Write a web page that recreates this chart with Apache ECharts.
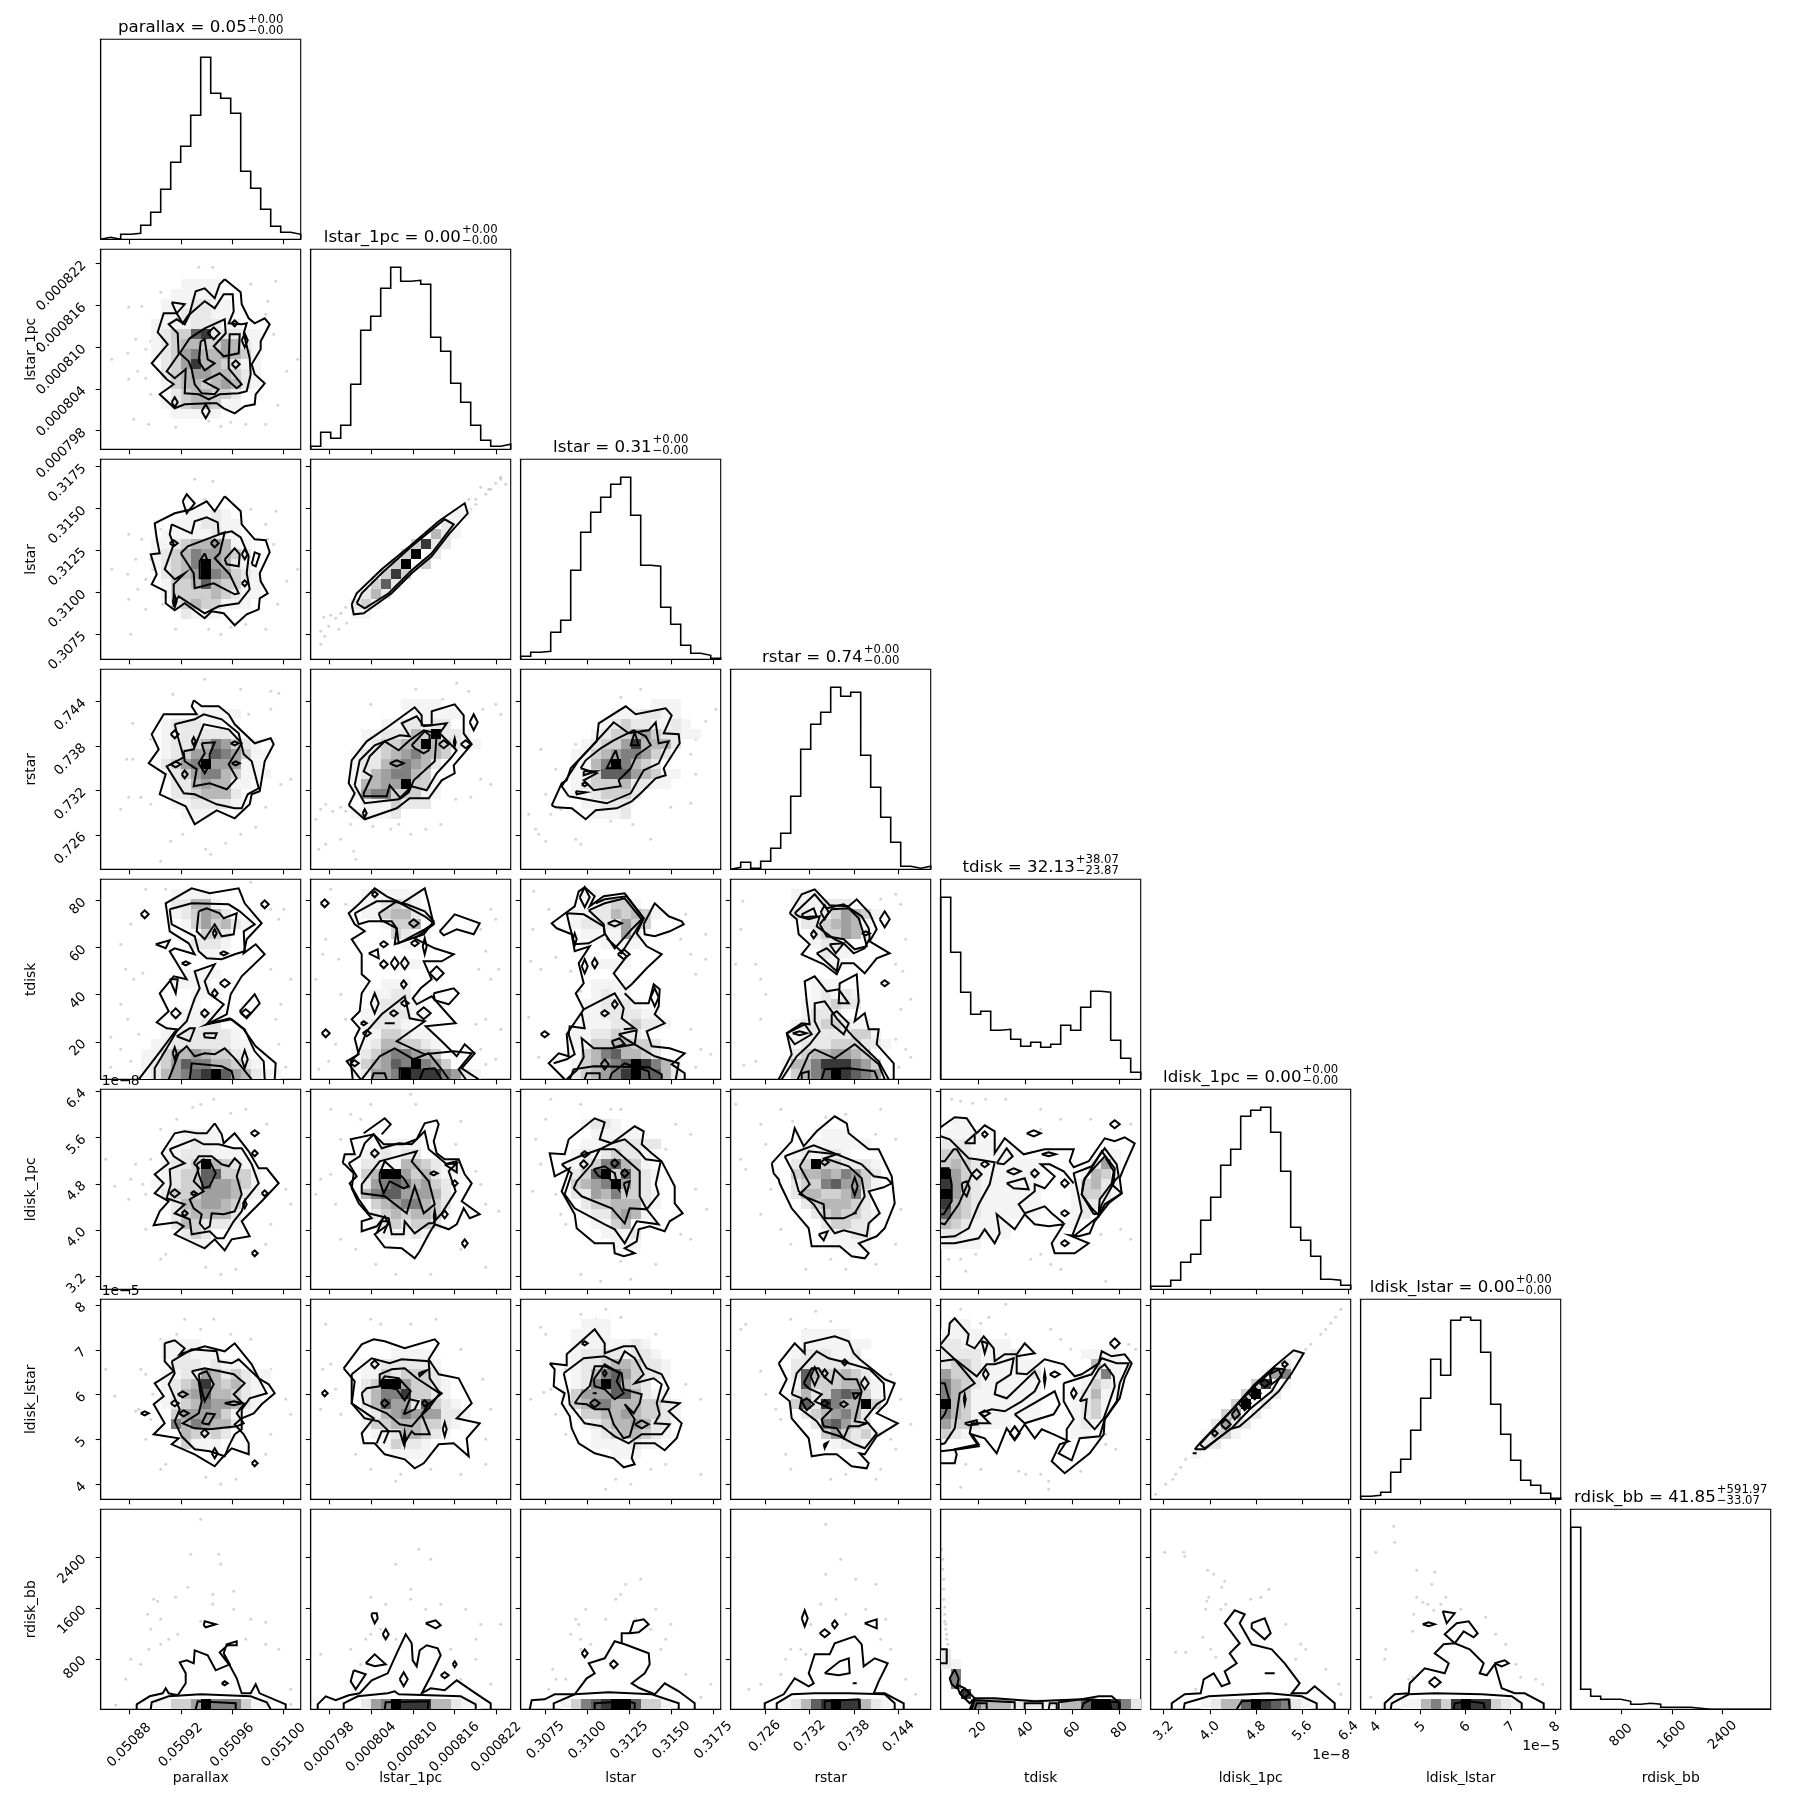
<!DOCTYPE html>
<html><head><meta charset="utf-8">
<style>html,body{margin:0;padding:0;background:#fff}#c{width:1809px;height:1809px}</style>
<script src="https://cdn.jsdelivr.net/npm/echarts@6/dist/echarts.min.js"></script>
</head><body><div id="c"></div>
<script>
const paramNames=["parallax","lstar_1pc","lstar","rstar","tdisk","ldisk_1pc","ldisk_lstar","rdisk_bb"];
const axisMin=[0.0508577,0.00079533,0.30601,0.72138,4.1,2.975e-8,3.668e-5,3];
const axisMax=[0.0510133,0.00082405,0.31794,0.74831,89,6.435e-8,8.127e-5,3159];
const tickValues=[[0.05088,0.05092,0.05096,0.051],[0.000798,0.000804,0.00081,0.000816,0.000822],[0.3075,0.31,0.3125,0.315,0.3175],[0.726,0.732,0.738,0.744],[20,40,60,80],[3.2e-8,4e-8,4.8e-8,5.6e-8,6.4e-8],[4e-5,5e-5,6e-5,7e-5,8e-5],[800,1600,2400]];
const tickLabels=[["0.05088","0.05092","0.05096","0.05100"],["0.000798","0.000804","0.000810","0.000816","0.000822"],["0.3075","0.3100","0.3125","0.3150","0.3175"],["0.726","0.732","0.738","0.744"],["20","40","60","80"],["3.2","4.0","4.8","5.6","6.4"],["4","5","6","7","8"],["800","1600","2400"]];
const titleMain=["parallax = 0.05","lstar_1pc = 0.00","lstar = 0.31","rstar = 0.74","tdisk = 32.13","ldisk_1pc = 0.00","ldisk_lstar = 0.00","rdisk_bb = 41.85"];
const titleUp=["+0.00","+0.00","+0.00","+0.00","+38.07","+0.00","+0.00","+591.97"];
const titleDown=["\u22120.00","\u22120.00","\u22120.00","\u22120.00","\u221223.87","\u22120.00","\u22120.00","\u221233.07"];
// relative histogram counts per bin
const hist_0=[2,0,5,6,14,27,50,77,93,124,182,146,141,126,68,51,30,13,7,5];
const hist_1=[3,17,11,24,65,119,133,161,182,168,169,165,112,98,66,47,24,9,3,5];
const hist_2=[3,7,8,27,39,89,127,147,162,175,182,144,94,93,52,35,14,6,4,1];
const hist_3=[2,7,1,8,21,36,73,120,145,157,182,173,177,114,82,52,27,3,1,3];
const hist_4=[182,127,87,65,68,49,50,40,33,37,32,35,54,49,72,88,87,39,21,7];
const hist_5=[3,3,9,27,35,69,92,124,140,173,179,182,157,118,62,49,33,10,9,4];
const hist_6=[3,4,7,27,40,69,101,140,124,179,182,179,147,95,65,39,19,14,6,1];
const hist_7=[182,20,13,10,10,8,5,6,5,2,2,2,1,0,0,0,0,0,0,0];
// Contours/points below: x,y pairs in 1/200ths of each parameter's plotted range.
// Islands: cx,cy,rx,ry. Cells: [row from top, first column, density digits 0-9].
const contours_1_0=[[124,170,140,157,141,145,148,131,154,126,164,131,169,125,160,108,160,100,151,85,154,75,164,66,155,55,154,45,144,43,134,36,123,41,116,46,108,46,84,45,74,41,59,55,73,65,66,70,51,86,67,105,57,117,63,136,76,136,82,126,89,136,95,158,104,161,114,151,119,165],[89,135,104,148,114,141,123,155,132,155,133,138,128,126,141,125,146,126,143,116,149,91,150,75,146,58,138,56,119,55,108,50,98,55,84,56,85,80,74,71,66,78,78,95,77,116,68,125,76,130,84,125],[79,96,89,111,104,121,124,130,125,116,113,103,123,93,138,96,139,115,129,115,128,90,128,81,141,65,136,61,119,76,103,68,118,60,114,55,101,56,94,65,91,80,88,88],[100,108,104,110,107,90,114,86,104,79,98,88],[71,147,84,145,76,136]];
const islands_1_0=[113,116,6,6,74,47,3,5,105,38,4,7,134,126,3,3,144,109,3,7,135,85,4,4];
const cells_1_0=[[3,8,"1111"],[4,7,"11111"],[5,6,"1112211"],[6,6,"1122211"],[7,5,"111122211"],[8,5,"12337822211"],[9,5,"12344335421"],[10,5,"12356445431"],[11,6,"2358443211"],[12,6,"2345544321"],[13,6,"1344345421"],[14,7,"2344332"],[15,6,"12344311"],[16,7,"11111"]];
const points_1_0=[53,128,60,157,98,182,104,165,112,182,33,30,28,142,37,78,41,143,50,108,45,100,52,102,27,96,11,90,62,65,28,70,45,71,50,55,48,25,75,22,108,28,120,23,130,27,145,25,165,25,177,44,186,78,197,90,173,115,167,148,150,165,175,168,165,135,35,110];
const contours_2_0=[[124,163,140,148,141,135,154,120,165,119,169,107,159,86,160,78,167,66,159,61,158,50,146,45,134,34,123,46,111,48,104,41,84,56,74,49,65,56,65,68,51,75,56,85,50,105,59,106,56,121,54,136,74,146,91,150,106,158,114,148],[71,135,82,130,91,126,94,138,106,142,117,137,118,125,131,128,140,122,148,103,146,86,149,70,138,56,118,53,104,46,78,63,73,55,73,75,84,86,74,80,64,90,73,115,69,125],[80,106,87,113,124,127,119,106,114,101,129,85,138,66,134,65,113,76,94,71,93,86,84,100],[124,100,134,111,139,105,138,93,126,95],[104,106,109,93,109,81,99,81,99,98],[82,158,86,165,94,156,86,146],[151,95,154,107,159,105,155,93]];
const islands_2_0=[73,116,4,3,114,116,4,4,144,105,3,5,144,76,3,3,74,58,2,6];
const cells_2_0=[[5,8,"11121"],[6,7,"1112211"],[7,6,"11111211"],[8,5,"1123445411"],[9,5,"1234655432"],[10,5,"1234695421"],[11,6,"2345965321"],[12,6,"1334743311"],[13,6,"1333343211"],[14,7,"23433111"],[15,8,"2111"]];
const points_2_0=[53,115,60,130,94,180,104,160,112,178,30,25,28,125,37,70,41,120,50,100,45,80,52,90,27,85,11,90,62,55,28,60,45,50,75,30,108,30,120,25,130,32,145,35,165,30,177,55,186,78,197,90,173,115,167,120,150,150,175,148,165,135,35,100];
const contours_3_0=[[93,169,101,163,118,163,128,155,134,145,154,126,170,131,173,125,164,108,159,78,151,75,149,65,134,51,116,59,94,45,85,63,59,75,65,95,48,106,58,120,51,135,63,155,86,155,96,155,91,163],[74,145,94,150,103,155,121,150,138,136,143,115,151,108,158,81,147,75,141,61,134,61,116,65,94,75,83,76,66,103,83,112,77,133],[83,118,93,120,103,145,128,140,141,126,128,105,136,91,126,80,109,86,93,83,96,100,84,108],[101,126,114,127,109,115,109,105,104,96,98,106,104,116]];
const islands_3_0=[74,135,4,4,93,128,2,4,134,126,4,2,75,105,5,3,84,95,3,4,135,106,4,2];
const cells_3_0=[[4,10,"1111"],[5,6,"122211"],[6,6,"11222221"],[7,6,"1223465321"],[8,6,"12355765311"],[9,6,"2356955511"],[10,6,"12356643111"],[11,7,"22454411"],[12,7,"2234442"],[13,7,"1122221"],[14,8,"111"]];
const points_3_0=[32,146,50,130,26,110,32,110,72,175,104,190,140,180,170,178,178,176,148,155,170,160,28,72,40,72,20,60,50,65,82,35,105,20,125,26,140,35,155,42,165,62,180,85,190,90,70,28,60,8,110,15];
const contours_4_0=[[38,0,58,26,76,50,66,51,56,57,68,68,59,86,73,103,86,100,69,128,74,131,94,125,88,136,69,148,65,176,91,191,109,186,138,191,144,176,161,156,146,140,143,126,155,135,164,125,141,103,130,85,126,65,106,55,129,61,143,50,155,33,175,16,174,0],[69,170,91,176,128,175,139,168,154,155,143,148,144,128,134,125,121,120,106,121,98,128,94,143,71,155],[98,168,106,171,119,166,123,161,136,166,133,145,121,143,114,155,104,140,96,148],[-1,54,0,54,11,66,31,76,48,86,58,94,81,99,91,94,108,114,115,104,98,108,86,123,75,106,55,131,60,144,50,154,28,163,18,164,0],[68,0,70,5,78,26,86,33,94,23,104,26,114,25,124,31,134,21,151,0],[89,0,91,16,121,13,131,8,133,0],[55,135,69,139,65,131],[69,100,77,100,75,86],[139,68,154,85,159,76,146,61],[103,46,116,46,114,41,104,42],[76,43,89,51,94,51,89,38]];
const islands_4_0=[44,165,4,4,164,175,4,4,85,116,4,2,124,96,5,4,114,86,3,4,75,66,5,5,104,66,4,4,145,66,5,4,74,26,2,6,123,126,4,2,114,146,2,4,144,20,3,9];
const cells_4_0=[[1,7,"1111"],[2,7,"22441"],[3,7,"123542"],[4,8,"1353421"],[5,10,"332"],[6,9,"2221"],[7,10,"11"],[9,8,"1111"],[10,7,"1111"],[11,9,"111"],[12,9,"1"],[13,8,"1111"],[14,8,"1122"],[15,6,"11222221"],[16,5,"1122222211"],[17,4,"11344543321"],[18,4,"123576644321"],[19,4,"12456789754211"]];
const points_4_0=[45,190,65,190,150,197,100,176,170,170,178,160,183,170,30,155,20,135,25,110,33,100,42,106,20,75,27,60,38,45,10,42,170,110,190,100,180,75,175,60,178,35,185,12,30,18,10,12,20,30];
const contours_2_1=[[41,55,46,66,71,90,99,113,128,138,154,156,157,146,138,125,121,103,101,86,81,66,53,46,43,45],[46,56,51,66,71,86,101,113,134,140,143,135,121,106,101,89,78,66,54,51]];
const islands_2_1=[];
const cells_2_1=[[5,14,"11"],[6,13,"21"],[7,12,"421"],[8,10,"3822"],[9,9,"39 2"],[10,8,"39 3"],[11,7,"383"],[12,6,"372"],[13,5,"242"],[14,4,"231"],[15,4,"11"]];
const points_2_1=[10,15,14,23,18,33,13,42,20,44,25,41,30,46,35,52,10,28,28,30,36,36,165,155,160,150,170,172,175,165,178,170,165,160,158,160,190,180,185,176,180,170,190,182,195,175];
const contours_3_1=[[38,64,44,76,38,86,41,109,56,128,78,143,104,162,111,154,111,144,121,144,121,158,144,165,153,154,153,136,161,125,143,104,144,96,131,89,118,71,99,71,86,61,54,50],[44,84,49,109,64,124,89,134,99,133,91,146,106,153,113,143,136,146,129,136,146,119,140,111,126,96,116,79,101,83,88,70,54,66],[53,76,61,93,53,98,59,113,74,128,88,119,99,129,113,139,126,136,124,108,103,89,98,77,90,71,79,84,76,73,53,73],[101,124,114,138,119,134,118,119,113,116,104,121]];
const islands_3_1=[86,106,7,3,54,56,2,4,133,125,5,4,144,127,1,4,155,125,5,4,163,147,4,8];
const cells_3_1=[[3,9,"1111"],[4,10,"11111"],[5,7,"1122122"],[6,5,"11222439221"],[7,5,"123344943211"],[8,4,"1223456443"],[9,4,"122456542"],[10,4,"12456643"],[11,4,"144559331"],[12,4,"156633311"],[13,5,"1113222"],[14,4,"11112"]];
const points_3_1=[5,50,10,60,15,65,22,58,30,62,35,58,40,45,8,20,15,25,30,30,43,18,45,10,62,43,80,40,88,45,100,35,115,40,130,45,145,70,160,72,170,90,180,85,172,160,158,178,146,186,132,170,60,165,105,180,185,165,190,155];
const contours_3_2=[[31,64,41,86,46,89,50,101,76,128,78,146,105,163,115,155,145,161,151,154,143,136,158,135,159,126,143,101,145,94,135,91,120,76,111,68,96,61,75,59,65,50,51,61,35,62],[48,73,41,83,58,109,83,136,93,147,108,136,128,139,135,147,138,126,148,128,138,106,123,99,110,76,86,66,59,71],[60,101,65,109,80,121,93,129,113,139,125,133,130,124,116,114,110,101,98,89,100,83,73,79,63,89,76,96],[114,137,118,124,110,124],[95,119,100,101,86,101],[63,98,75,98,63,94],[55,78,65,77,56,75]];
const islands_3_2=[64,85,3,2];
const cells_3_2=[[3,13,"111"],[4,9,"1112211"],[5,8,"123221121"],[6,7,"12334532211"],[7,6,"1233584442"],[8,5,"1134566532"],[9,5,"114696432"],[10,5,"11377754311"],[11,5,"1233342211"],[12,5,"1123332"],[13,6,"11222"],[14,7,"1112"]];
const points_3_2=[20,120,35,100,25,75,8,55,15,40,30,55,40,60,18,35,25,28,55,30,60,25,90,48,112,45,130,30,150,62,170,66,175,95,170,115,175,130,185,148,195,160,160,150,150,160,120,180,100,172,55,125];
const contours_4_1=[[50,0,36,18,48,25,44,41,49,51,41,60,49,68,51,86,59,98,51,105,51,125,41,140,54,148,44,155,38,166,48,175,64,191,76,183,91,176,114,191,118,176,123,155,104,141,124,131,143,125,131,118,113,118,121,100,110,91,102,81,106,75,121,83,145,56,115,53,131,38,146,23,154,35,164,26,151,11,168,0],[129,148,144,165,169,156,163,145,146,150,133,144],[42,0,40,18,47,25,56,48,71,65,94,83,99,61,114,58,86,38,114,25,143,28,161,26,148,10,155,0],[51,0,69,23,84,31,103,20,118,26,131,10,138,0],[61,0,63,6,74,6,76,0],[89,0,89,11,99,11,99,0],[109,0,113,10,124,11,131,0],[44,166,66,178,81,178,96,175,114,168,123,158,113,145,84,135,86,151,73,158,58,158,48,155],[68,166,86,178,114,163,123,156,114,150,88,136,86,151,81,158,71,158],[58,126,67,130,68,121],[123,86,143,91,148,86,138,75,124,79],[-1,74,56,84,56]];
const islands_4_1=[14,176,4,4,64,185,3,3,103,156,5,4,73,135,4,3,104,136,4,3,114,133,2,8,73,115,4,4,84,116,4,6,94,116,4,6,126,106,7,7,93,95,3,4,64,76,4,10,94,76,4,3,113,66,7,6,83,66,4,3,53,56,3,2,56,46,4,3,15,46,4,4,44,16,4,3];
const cells_4_1=[[1,5,"111111"],[2,5,"112321"],[3,5,"1134421"],[4,7,"1334"],[5,8,"3211"],[6,9,"1"],[8,9,"11"],[10,7,"111"],[11,6,"1122"],[12,6,"12211"],[13,5,"1122211"],[14,5,"12221"],[15,5,"1133211"],[16,5,"12443321"],[17,4,"123566543"],[18,4,"1345769653"],[19,4,"1255698886521"]];
const points_4_1=[20,190,35,175,15,140,28,120,12,125,5,100,180,170,185,160,170,150,175,128,188,110,180,100,168,110,175,60,165,55,190,50,170,30,185,20,175,15,35,60,30,85,25,35,18,18,8,10];
const contours_4_2=[[-1,44,0,28,16,38,26,48,23,46,45,63,70,55,86,63,96,58,116,69,133,54,128,51,145,36,151,31,156,54,173,58,188,64,192,74,183,69,173,83,183,104,186,123,161,116,146,126,133,141,125,126,111,111,95,105,90,93,106,106,123,86,141],[-1,104,86,114,76,128,76,133,95,139,90,138,73,134,65,144,56,126,48,131,33,149,31,164,26,151,15,164,6,164,0],[-1,63,70,94,86,103,71,101,61,114,51,103,50],[-1,33,16,46,20,54,25,48,45,49,53,64,51,61,66],[-1,46,0,56,9,63,22,61,41,73,31,91,31,114,35,134,23,158,16,155,0],[49,0,53,10,73,13,128,12,141,5,141,0],[64,0,66,6,79,6,79,0],[89,0,91,6,104,16,128,8,129,0],[46,166,63,165,83,153,84,145,68,136,54,135,49,153],[68,169,84,176,104,181,121,160,111,150,94,131,84,146,83,155],[-1,75,176,84,180,106,183,123,161,116,150,100,125],[123,155,134,176,148,163,161,158,163,155,149,148,134,143,124,145],[98,45,116,49,114,35,109,38],[91,38,99,41,104,35,94,32]];
const islands_4_2=[64,182,5,10,94,156,7,3,103,125,6,5,54,140,2,6,64,113,3,7,74,116,3,5,134,82,4,9,94,75,3,4,84,66,4,3,24,45,4,3,84,15,4,5];
const cells_4_2=[[1,6,"11"],[2,7,"12331"],[3,5,"112243431"],[4,5,"12222533"],[5,6,"111152"],[6,8,"1111"],[8,7,"1111"],[10,7,"1111"],[11,7,"1211"],[12,6,"112221"],[13,6,"11222211"],[14,6,"111223221"],[15,5,"11223221"],[16,5,"113344332"],[17,6,"34674432"],[18,5,"13456798641"],[19,5,"23456897742"]];
const points_4_2=[13,188,28,170,10,118,12,150,20,110,35,122,50,108,60,88,8,62,18,22,185,120,170,125,175,105,160,140,165,165,185,145,170,50,180,30,190,25,175,12];
const contours_4_3=[[59,166,71,185,84,190,99,174,118,173,126,180,139,166,146,150,139,138,159,126,146,121,134,106,123,116,111,116,106,105,93,115,71,125,79,135,68,145,66,160],[64,166,84,185,96,171,113,175,131,163,138,151,139,141,134,131,123,126,113,136,104,140,86,153,89,163,78,160,68,163],[89,155,101,170,118,171,128,161,133,145,136,133,124,130,113,140,96,143],[71,165,83,171,86,163,73,162],[99,135,113,136,105,126],[86,126,96,131,108,120,106,108],[48,0,61,25,56,46,71,56,79,55,76,78,74,98,84,103,96,88,108,90,118,76,108,76,109,96,126,105,128,78,124,58,134,66,138,50,148,50,146,35,163,16,163,0],[51,0,66,23,79,35,89,48,84,58,84,76,94,78,106,61,124,41,148,18,158,0],[67,0,78,25,84,30,104,21,124,35,148,15,154,0],[71,0,71,6,78,8,78,0],[91,0,94,10,118,11,144,8,147,0],[101,65,106,68,118,56,113,45,101,55],[56,46,74,55,81,45,64,35]];
const islands_4_3=[94,167,4,7,83,145,3,4,135,146,4,2,154,160,5,8,154,96,4,3,69,46,7,2];
const cells_4_3=[[1,6,"111"],[2,6,"111222"],[3,6,"221235431"],[4,7,"2234541"],[5,8,"233541"],[6,8,"1221"],[7,9,"211"],[8,9,"11"],[10,8,"111"],[11,8,"12121"],[12,7,"112322"],[13,7,"1222"],[14,6,"12233211"],[15,6,"112222331"],[16,6,"1222333221"],[17,6,"23445543"],[18,5,"1446888653"],[19,5,"1346798765"]];
const points_4_3=[12,178,10,150,5,115,25,115,30,100,35,85,30,60,25,18,13,14,165,185,150,180,170,175,175,140,165,115,172,108,180,80,170,70,165,40,175,30,180,22,168,12];
const contours_5_0=[[114,166,121,155,123,146,134,156,148,138,158,121,166,121,178,106,161,88,151,78,141,68,149,53,131,50,124,39,114,50,104,41,74,55,83,63,76,67,53,64,59,78,68,88,54,96,63,106,54,115,68,126,61,136,74,156,84,158,96,156,106,156],[69,140,94,150,103,145,118,145,133,141,141,141,151,125,158,106,145,90,141,78,133,68,123,51,116,51,109,58,91,55,89,70,74,76,84,85,66,91,70,105,69,120,84,126,73,133],[93,126,98,133,111,133,121,125,128,123,134,131,140,125,136,113,141,95,134,78,123,75,111,76,109,63,104,60,99,66,101,75,93,81,89,90,103,98,93,108,98,121],[96,125,103,130,109,128,115,116,109,103,103,101,98,115]];
const islands_5_0=[154,156,4,3,154,136,3,3,74,96,5,4,93,96,3,2,164,96,3,3,144,85,2,4,84,76,3,3,154,36,3,3];
const cells_5_0=[[4,8,"1111"],[5,7,"11211"],[6,6,"11222111"],[7,6,"122394321"],[8,6,"1233773331"],[9,5,"11233755431"],[10,6,"2333555421"],[11,7,"2445543"],[12,7,"2344442"],[13,7,"2432221"],[14,8,"232"],[15,9,"11"]];
const points_5_0=[50,130,30,110,28,90,35,125,42,105,45,95,60,160,76,170,92,182,100,185,113,190,130,176,145,180,166,165,14,103,5,130,185,100,190,85,170,65,165,45,60,30,65,35,105,22,120,15,135,20,45,60];
const contours_6_0=[[64,156,74,159,84,151,79,145,104,153,124,148,134,156,151,135,158,121,168,115,174,106,161,95,153,86,141,81,134,75,143,65,148,56,148,45,131,51,121,41,114,33,94,45,71,55,78,61,53,65,64,76,53,95,63,103,54,116,73,128,64,138],[71,138,91,150,116,148,118,138,131,136,138,140,158,121,166,106,149,101,141,90,141,70,134,65,128,53,124,43,109,48,94,50,81,63,74,78,79,90,68,115,74,126],[91,128,104,131,119,128,133,125,144,116,133,105,143,95,136,86,143,76,136,73,109,70,94,71,82,76,98,86,101,98,98,118],[98,125,106,128,113,115,104,98,100,113],[101,76,106,86,114,85,108,75]];
const islands_6_0=[74,96,4,3,133,96,9,2,82,105,5,3,83,86,5,3,44,86,4,2,104,66,4,4,114,46,3,5,154,36,3,3];
const cells_6_0=[[4,6,"1111"],[5,6,"112111"],[6,7,"2221211"],[7,6,"11225423211"],[8,6,"1234843421"],[9,6,"1245744321"],[10,6,"1234655421"],[11,7,"35555311"],[12,7,"6465442"],[13,8,"43232"],[14,8,"3111"]];
const points_6_0=[40,130,45,125,52,105,38,90,35,88,50,80,60,160,76,165,84,180,100,170,113,180,130,165,150,160,170,130,14,103,5,130,185,100,190,85,170,65,165,45,60,30,65,35,105,22,120,15,135,20,45,60];
const contours_7_0=[[36,0,36,5,49,13,62,16,65,21,68,16,77,14,85,26,85,36,79,47,86,49,93,46,94,59,107,54,115,39,129,45,123,56,126,65,136,68,136,64,127,64,119,57,129,44,136,31,141,16,150,16,155,25,159,16,185,5,185,0],[50,0,51,7,68,13,100,15,150,13,166,7,170,0],[95,0,97,8,135,6,135,0],[103,84,104,88,115,85,105,82]];
const islands_7_0=[124,26,3,2];
const cells_7_0=[[19,5,"113359666311"]];
const points_7_0=[15,4,25,30,47,95,30,50,40,45,48,60,53,110,57,108,68,70,77,75,87,122,100,88,112,105,75,112,60,90,60,65,90,155,120,145,133,118,133,100,145,70,150,90,165,87,165,65,178,60,190,5,190,20,100,190,118,155,112,115,50,80];
const contours_7_1=[[7,0,7,5,15,13,25,9,38,14,49,16,61,29,77,36,86,56,95,75,101,66,102,49,106,43,109,59,116,64,127,61,130,54,120,33,111,16,120,21,134,19,146,29,165,16,180,6,180,0],[33,0,33,6,47,13,77,16,84,18,88,15,150,13,165,5,165,0],[74,0,75,7,118,8,117,0],[61,96,66,96,67,91,64,86,61,93],[115,86,125,89,130,84,125,81],[55,46,64,55,75,45,64,43],[43,39,55,35,45,20,40,28]];
const islands_7_1=[75,75,3,5,93,30,4,7,134,34,4,3,144,45,2,3];
const cells_7_1=[[19,5,"256988844211"]];
const points_7_1=[10,55,40,60,50,45,55,70,60,75,70,80,85,70,100,110,115,100,130,105,155,100,165,70,170,85,190,85,140,60,150,30,165,50,180,25,85,145,100,120,108,160,120,150,60,112,75,105];
const contours_7_2=[[9,0,11,9,24,10,34,15,54,15,66,31,74,36,68,46,84,51,94,68,104,65,128,56,129,45,124,36,111,26,119,21,134,15,144,26,158,18,174,6,174,0],[-1,101,66,101,76,109,76,113,88,123,90,128,85,118,77,109,76],[33,0,33,6,54,15,88,17,131,15,158,6,158,0],[74,0,74,6,108,8,114,6,114,0]];
const islands_7_2=[64,56,3,4,93,45,4,4];
const cells_7_2=[[19,4,"13678997331"]];
const points_7_2=[28,20,35,30,32,40,45,30,50,75,55,90,58,85,60,70,60,60,65,100,70,65,85,90,95,110,100,115,115,90,120,130,105,125,130,80,140,60,150,85,145,70,165,35,180,12,190,25,135,100];
const contours_7_3=[[34,0,34,6,53,15,64,31,78,23,83,26,78,36,84,55,99,55,104,66,124,73,131,65,133,43,144,51,157,46,148,28,143,16,154,16,173,6,173,0],[46,0,46,6,61,15,84,16,118,16,154,15,164,6,164,0],[94,0,94,8,128,10,129,0],[94,36,109,48,118,51,119,36,108,34],[134,86,146,90,146,81]];
const islands_7_3=[74,91,3,8,94,76,5,4,104,85,3,4,124,26,2,2];
const cells_7_3=[[19,5,"12478988421"]];
const points_7_3=[18,20,30,25,50,35,55,50,60,60,70,60,75,55,80,85,90,105,105,110,110,150,125,130,95,135,115,95,135,100,155,90,160,60,150,70,175,30,185,15,145,125,95,185];
const contours_7_4=[[0,60,6,60,6,46,0,46],[14,40,18,31,16,21,11,25,9,31],[16,25,24,21,34,11,29,6,19,16],[29,0,34,11,54,11,94,8,141,10,158,13,171,13,179,6,179,0],[31,0,34,9,74,7,74,0],[84,0,84,6,102,6,102,0],[108,0,109,6,116,6,116,0],[118,0,118,7,141,10,178,7,178,0],[34,0,36,6,46,6,46,0],[141,0,143,6,151,10,169,8,171,0]];
const islands_7_4=[24,16,5,5];
const cells_7_4=[[14,0,"2"],[15,0,"21"],[16,1,"6"],[17,1,"6"],[18,2,"8"],[19,3,"64442221244799862"]];
const points_7_4=[1,160,2,150,2,140,3,130,3,120,3,110,4,102,4,95,4,88,5,85,5,80,6,75,6,70,7,65,8,55,9,48,12,42];
const contours_7_5=[[21,0,21,6,34,15,50,16,53,30,63,36,71,23,79,26,74,38,86,46,79,56,89,66,74,86,84,99,94,95,89,86,101,65,121,60,134,46,149,26,141,16,156,16,164,23,184,6,184,0],[101,86,114,91,120,76,114,70,101,81],[-1,114,36,124,36],[33,0,34,6,58,13,118,16,151,13,166,6,166,0],[86,0,91,8,138,10,139,0]];
const islands_7_5=[];
const cells_7_5=[[19,5,"12447987621"]];
const points_7_5=[33,157,34,153,14,157,57,139,63,135,74,128,71,122,58,112,55,100,56,108,70,100,75,105,35,57,25,57,45,20,65,52,110,112,100,110,118,120,135,85,145,50,150,65,155,60,175,40,188,25,190,15,60,60,52,72];
const contours_7_6=[[24,0,24,6,34,15,48,16,49,26,64,41,84,36,88,46,74,56,83,65,94,66,109,60,123,46,119,36,126,34,134,45,141,21,154,16,164,16,183,6,183,0],[94,66,84,75,96,86,108,88,117,76,113,72,103,78],[134,46,144,49,148,46,141,43],[82,98,94,96,86,86],[30,0,31,6,48,15,74,16,121,15,151,13,161,6,161,0],[93,0,94,6,109,8,123,6,124,0]];
const islands_7_6=[68,85,6,2,74,27,6,5];
const cells_7_6=[[19,4,"114638988321"]];
const points_7_6=[33,183,34,167,15,157,56,139,74,137,71,125,56,112,62,107,67,105,73,99,53,95,52,78,24,50,25,60,52,32,48,30,85,112,80,105,100,100,135,75,145,65,155,45,160,32,175,30,182,25,10,12,125,92];
const contours_5_1=[[32,126,34,135,44,135,40,150,63,155,73,145,93,145,106,150,114,166,126,169,128,165,123,148,126,136,134,130,148,130,154,115,161,106,151,88,169,75,159,71,153,81,146,65,138,60,124,65,118,55,109,38,104,31,91,41,74,42,64,55,78,65,74,73,66,63,51,58,51,68,61,71,48,86,41,101,43,116,34,125],[-1,53,156,74,171,80,165,71,155],[38,126,49,133,54,146,63,155,71,141,88,146,101,145,114,158,118,140,136,125,146,126,138,118,145,98,131,76,122,66,118,66,104,56,94,68,93,55,81,55,78,71,58,76,48,90,39,106,46,113],[51,105,69,128,106,138,101,128,118,108,124,85,113,76,104,103,96,76,74,93,51,96],[69,116,74,128,93,111,98,103,93,101,79,108,73,96,69,108],[134,125,146,128,146,117],[-1,66,56,71,68,78,68,73,56]];
const islands_5_1=[64,136,4,4,123,116,4,2,144,106,3,3,134,75,3,4,124,73,1,6,154,46,3,4];
const cells_5_1=[[5,7,"1111"],[6,5,"112122"],[7,5,"2211443211"],[8,5,"3499534211"],[9,5,"256764532"],[10,5,"467755542"],[11,6,"34566432"],[12,6,"23434431"],[13,6,"1232332"],[14,7,"11121"]];
const points_5_1=[20,180,30,150,40,175,50,170,60,185,100,195,105,185,150,168,145,145,165,118,170,105,175,85,188,78,20,115,10,110,25,85,30,50,45,40,65,25,85,15,150,40,175,22,120,15,5,95];
const contours_6_1=[[33,131,51,155,63,160,74,158,94,151,124,160,128,156,118,140,128,125,148,121,161,96,146,81,169,76,156,61,158,43,143,56,128,55,113,36,104,31,94,40,74,45,64,56,53,56,51,66,63,81,41,96,44,118],[41,125,61,141,79,136,91,140,118,138,119,121,128,108,131,106,118,95,111,85,119,65,104,65,101,68,93,55,89,68,78,68,68,78,54,81,41,96],[51,106,56,111,69,113,69,125,81,130,94,131,106,121,129,106,118,91,108,81,101,73,89,75,76,86,53,96],[69,116,74,123,88,121,100,108,94,99,86,110,71,113],[93,85,99,100,108,98,104,90],[108,126,116,129,109,123],[-1,66,56,71,68,78,68,73,56]];
const islands_6_1=[64,135,4,4,74,96,4,4,114,96,3,3,14,106,3,3,134,70,2,7,94,61,1,6];
const cells_6_1=[[5,8,"1111"],[6,5,"11222221"],[7,5,"11323332"],[8,5,"239953321"],[9,5,"246683321"],[10,5,"2475527321"],[11,5,"12456555221"],[12,5,"1334443321"],[13,6,"11244321"],[14,7,"13221"],[15,8,"1111"]];
const points_6_1=[15,175,12,130,20,135,25,110,10,90,30,85,60,180,70,175,100,175,125,180,150,150,172,120,180,90,175,60,175,35,150,25,90,25,85,18,120,30,60,30,45,45];
const contours_5_2=[[48,150,74,171,84,167,79,150,91,146,114,163,123,158,121,145,131,136,141,128,154,103,154,86,162,76,149,68,144,58,129,63,118,60,116,48,104,41,114,36,103,33,94,36,93,46,74,46,56,61,54,75,41,98,49,121,34,113,29,136,44,135],[41,125,59,133,79,140,91,146,104,150,118,138,125,130,140,128,135,105,138,95,126,80,138,65,116,68,104,46,94,60,84,65,54,81,44,95,51,116],[53,101,56,108,71,125,79,140,94,140,119,118,119,93,126,80,109,81,104,66,91,81,61,93],[73,120,84,123,94,116,98,100,89,111,78,113],[103,106,109,108,106,95]];
const islands_5_2=[64,135,4,3,63,125,4,4,94,126,4,4,104,116,4,4,94,116,1,1];
const cells_5_2=[[3,6,"1221"],[4,7,"11111"],[5,6,"11122222"],[6,5,"12123221"],[7,4,"112367431"],[8,5,"237937321"],[9,5,"34569532"],[10,5,"225463321"],[11,6,"23344421"],[12,6,"1224541"],[13,7,"1134"],[14,8,"1112"],[15,9,"111"]];
const points_5_2=[15,150,25,170,30,190,20,125,12,98,35,95,40,75,45,65,60,185,90,180,100,180,155,165,145,140,170,155,175,100,186,80,170,50,160,55,135,25,110,10,100,28,60,15,80,8];
const contours_5_3=[[41,126,61,148,64,161,73,143,86,158,104,173,116,166,118,156,138,140,148,140,161,113,164,86,154,61,146,53,128,46,138,36,134,31,121,33,109,43,81,43,78,61,61,81,49,106,48,110,43,116],[54,133,83,144,106,135,131,125,143,113,156,111,161,106,153,102,138,98,149,76,138,66,136,53,113,59,104,56,89,76,83,85,68,98,63,116],[69,123,78,138,106,135,94,131,118,123,131,111,134,93,124,76,113,71,94,71,93,85,78,91,69,95,79,105],[88,55,97,58,93,49]];
const islands_5_3=[124,103,3,9,124,76,2,2,94,127,4,3];
const cells_5_3=[[4,9,"111"],[5,7,"1111111"],[6,6,"121221"],[7,6,"239332221"],[8,6,"344546532"],[9,6,"233675531"],[10,6,"24433462"],[11,7,"2344432"],[12,8,"2343321"],[13,9,"23322"],[14,9,"11122"],[15,10,"1111"]];
const points_5_3=[5,185,10,130,15,120,30,165,35,145,40,100,30,75,50,180,62,168,95,172,115,175,145,155,150,180,165,150,170,80,165,45,145,25,115,20,100,30,60,45,75,20,50,60];
const contours_6_2=[[29,136,46,134,46,145,74,170,84,156,84,146,103,153,114,153,123,136,126,131,141,125,148,111,141,98,159,96,148,88,161,76,156,61,144,49,134,56,114,56,111,41,114,35,103,32,93,41,74,46,58,56,51,71,49,83,41,96,44,106,33,113,34,130],[43,126,63,141,84,143,98,136,104,148,114,141,123,125,114,116,133,121,141,115,136,96,139,85,134,76,149,75,141,65,121,65,108,56,94,63,81,73,64,76,49,95,48,105],[54,96,61,106,69,113,74,133,84,133,101,126,103,110,121,105,119,96,113,86,104,95,114,80,109,63,103,61,93,75,88,90,74,90,66,95],[73,120,84,135,99,126,96,118,103,106,94,100,84,110,74,113]];
const islands_6_2=[64,156,3,2,84,126,2,3,74,106,2,1,74,96,5,4,121,75,7,4];
const cells_6_2=[[2,6,"111"],[3,5,"1111"],[4,5,"11111121"],[5,5,"122221221"],[6,5,"1223443221"],[7,5,"1246753221"],[8,5,"12697432"],[9,4,"13555774211"],[10,5,"34664443321"],[11,6,"3344543321"],[12,6,"123445422"],[13,7,"12344321"],[14,7,"1111211"],[15,9,"111"]];
const points_6_2=[20,172,25,165,45,130,30,110,10,100,23,107,35,85,45,65,60,185,75,180,85,190,100,182,115,155,135,165,165,115,180,100,145,35,130,30,85,10,95,20,110,15,180,25];
const contours_6_3=[[48,136,64,156,74,146,74,156,104,163,118,158,123,146,129,140,154,120,164,116,156,96,146,86,167,76,146,63,134,45,129,46,138,36,136,31,121,33,106,45,94,45,81,43,78,61,61,81,59,98,49,106,56,120],[61,105,66,126,86,148,98,141,118,136,139,130,153,116,154,100,146,95,134,80,146,66,134,51,124,55,109,63,93,68,86,78,69,91,71,101],[73,116,81,131,88,131,93,123,101,116,104,130,114,120,126,120,131,108,124,78,136,76,128,73,118,73,113,61,106,71,93,73,91,80,101,90,84,98,91,105,78,111],[71,98,76,101,83,95,76,89],[93,55,97,57,94,51],[124,100,129,106,122,106]];
const islands_6_3=[114,137,3,3,84,123,4,9,94,126,3,4,134,116,4,6,94,96,4,3,113,95,4,3];
const cells_6_3=[[3,7,"11111"],[4,7,"1111111"],[5,6,"1222112"],[6,6,"22222211"],[7,6,"27433432"],[8,6,"173334421"],[9,6,"242367631"],[10,6,"372864493"],[11,7,"2345642"],[12,8,"267532"],[13,9,"353231"],[14,10,"1221"]];
const points_6_3=[10,170,15,175,30,128,35,105,45,90,50,80,60,180,75,170,85,188,100,178,125,145,160,125,170,100,180,75,160,60,165,50,150,30,145,20,115,25,100,20,60,30,55,45];
const contours_5_4=[[0,162,14,172,26,171,36,156,44,164,54,158,54,136,64,151,83,135,104,140,133,140,129,128,133,122,148,128,164,151,174,148,184,152,194,146,183,121,179,111,181,96,168,86,154,68,149,56,138,53,129,54,148,46,134,36,114,36,111,46,123,65,108,63,94,65,84,75,74,60,56,75,59,56,54,46,44,60,38,51,14,46,0,46],[0,153,9,150,28,131,36,130,54,127,49,105,38,85,28,61,14,53,0,52],[0,66,4,65,18,85,31,115,16,140,13,140,4,128,0,128],[0,121,8,121,11,105,11,88,3,75,0,75],[132,55,141,78,138,93,133,116,151,123,164,141,176,125,178,113,171,105,181,96,164,85,158,73,133,53],[151,81,141,95,143,108,161,138,174,121,173,106,161,85,158,74],[153,75,141,95,144,111,164,133,173,118,171,106,159,90,158,76],[24,146,34,155,34,146],[56,126,66,141,72,133,63,125],[21,106,26,108,29,101,26,93,22,98],[66,106,84,111,88,100,73,101],[-1,84,76,78,85,94,98,94,105,104,101,114,113,100,125,109,125,123,118,133,106],[-1,84,76,104,83,111,76,123,66]];
const islands_5_4=[174,165,5,4,93,156,7,3,44,155,3,3,108,135,7,2,44,125,4,3,36,115,5,5,73,118,7,3,94,116,4,4,124,106,4,4,124,76,4,3,124,46,4,3];
const cells_5_4=[[3,1,"11"],[4,0,"1111"],[5,0,"222111"],[6,0,"33211111"],[6,16,"11"],[7,0,"3432111111"],[7,15,"251"],[8,0,"9532111111"],[8,14,"1431"],[9,0,"8532111111"],[9,13,"13421"],[10,0,"9532111111"],[10,13,"13321"],[11,0,"8432111111"],[11,13,"1221"],[12,0,"7432111111"],[12,13,"12"],[13,0,"4321111"],[13,12,"11"],[14,0,"2211111"],[15,0,"1111"]];
const points_5_4=[11,190,20,188,32,186,45,190,65,190,100,180,120,170,150,170,190,165,100,160,25,18,8,30,20,30,35,35,90,30,100,35,110,25,120,20,160,55,180,60,190,50,165,8,10,55];
const contours_6_4=[[0,155,8,165,9,176,14,181,28,165,26,155,34,151,43,163,53,151,54,138,64,145,76,145,84,156,94,146,76,143,76,126,86,125,104,140,123,135,134,123,141,125,158,136,161,148,171,143,184,145,191,136,184,121,179,101,164,80,163,65,149,46,124,26,111,38,119,55,128,58,113,65,101,70,94,61,84,75,74,60,66,71,56,46,44,61,31,65,38,55,14,50,16,45,14,36,0,36],[0,153,13,141,36,123,46,135,54,135,73,141,70,125,56,116,54,105,66,101,94,128,99,118,94,108,81,98,64,88,51,90,39,86,49,76,31,76,29,66,38,53,18,50,0,48],[0,138,14,140,34,116,19,106,14,71,4,56,0,55],[0,116,4,116,9,98,4,85,0,80],[123,116,151,125,161,141,176,136,188,136,179,116,176,98,164,80,159,63,139,61,131,39,118,46,126,58,126,70,133,80,123,98],[139,98,158,130,164,135,173,123,174,113,168,95,163,81,154,70,144,81,146,100],[41,158,44,157,47,156,44,146],[24,76,36,79,37,75,28,74],[74,85,114,108,119,95,113,85,84,76]];
const islands_6_4=[174,156,5,5,45,125,3,5,104,121,1,6,114,125,5,3,133,106,3,5,24,100,1,5,44,86,5,3,74,66,5,7];
const cells_6_4=[[2,1,"11"],[3,0,"1111"],[4,0,"2211111"],[5,0,"22221112"],[5,14,"1111"],[6,0,"2332111111"],[6,15,"411"],[7,0,"5332111112"],[7,15,"261"],[8,0,"6432111111"],[8,14,"1321"],[9,0,"6431111111"],[9,13,"12411"],[10,0,"9431111111"],[10,13,"1231"],[11,0,"6431111111"],[11,13,"1231"],[12,0,"5332111"],[12,13,"121"],[13,0,"3211"],[13,13,"11"]];
const points_6_4=[20,190,40,176,48,182,65,195,65,165,110,170,120,160,130,150,175,160,188,155,195,150,40,30,25,35,20,12,78,28,85,25,100,25,108,18,108,10,140,28,165,65,175,50,165,55];
const contours_6_5=[[44,50,49,56,78,86,104,115,124,133,143,149,153,146,141,126,128,108,104,86,89,73,79,70,54,50],[49,55,66,73,104,113,124,131,134,130,121,108,99,90,81,71,54,51],[119,125,128,130,131,123,121,115],[81,85,86,91,89,85,84,80]];
const islands_6_5=[134,135,3,3,114,116,5,4,104,106,6,6,94,96,6,7,75,75,5,5,64,66,3,3,44,46,2,2];
const cells_6_5=[[5,14,"1"],[6,13,"2"],[7,11,"156"],[8,10,"38 1"],[9,9,"39 2"],[10,8,"39 2"],[11,7,"35 2"],[12,6,"2522"],[13,5,"1331"],[14,5,"22"],[15,4,"1"]];
const points_6_5=[190,190,185,182,180,176,175,170,170,165,160,155,155,150,150,145,30,32,25,25,15,15,5,5,35,40,22,20];
// paint everything
const panels=[[1,0,contours_1_0,islands_1_0,cells_1_0,points_1_0],[2,0,contours_2_0,islands_2_0,cells_2_0,points_2_0],[2,1,contours_2_1,islands_2_1,cells_2_1,points_2_1],[3,0,contours_3_0,islands_3_0,cells_3_0,points_3_0],[3,1,contours_3_1,islands_3_1,cells_3_1,points_3_1],[3,2,contours_3_2,islands_3_2,cells_3_2,points_3_2],[4,0,contours_4_0,islands_4_0,cells_4_0,points_4_0],[4,1,contours_4_1,islands_4_1,cells_4_1,points_4_1],[4,2,contours_4_2,islands_4_2,cells_4_2,points_4_2],[4,3,contours_4_3,islands_4_3,cells_4_3,points_4_3],[5,0,contours_5_0,islands_5_0,cells_5_0,points_5_0],[5,1,contours_5_1,islands_5_1,cells_5_1,points_5_1],[5,2,contours_5_2,islands_5_2,cells_5_2,points_5_2],[5,3,contours_5_3,islands_5_3,cells_5_3,points_5_3],[5,4,contours_5_4,islands_5_4,cells_5_4,points_5_4],[6,0,contours_6_0,islands_6_0,cells_6_0,points_6_0],[6,1,contours_6_1,islands_6_1,cells_6_1,points_6_1],[6,2,contours_6_2,islands_6_2,cells_6_2,points_6_2],[6,3,contours_6_3,islands_6_3,cells_6_3,points_6_3],[6,4,contours_6_4,islands_6_4,cells_6_4,points_6_4],[6,5,contours_6_5,islands_6_5,cells_6_5,points_6_5],[7,0,contours_7_0,islands_7_0,cells_7_0,points_7_0],[7,1,contours_7_1,islands_7_1,cells_7_1,points_7_1],[7,2,contours_7_2,islands_7_2,cells_7_2,points_7_2],[7,3,contours_7_3,islands_7_3,cells_7_3,points_7_3],[7,4,contours_7_4,islands_7_4,cells_7_4,points_7_4],[7,5,contours_7_5,islands_7_5,cells_7_5,points_7_5],[7,6,contours_7_6,islands_7_6,cells_7_6,points_7_6]];
const histograms=[hist_0,hist_1,hist_2,hist_3,hist_4,hist_5,hist_6,hist_7];
const levelGray=[255,244,232,208,184,160,128,96,56,0];
const FONT='"DejaVu Sans"',LEFT=100.7,TOP=39.3,PITCH=210,SIZE=200;
const xMargin=[36,38,31,27,21,22,18,26];
const decode=(p,u)=>axisMin[p]+(u/200)*(axisMax[p]-axisMin[p]);
const grids=[],xAxes=[],yAxes=[],series=[],graphics=[];
const stroke={color:'#000',width:1.1};
function nearestLabel(p,v){let b=0,d=Infinity;tickValues[p].forEach((t,i)=>{const e=Math.abs(t-v);if(e<d){d=e;b=i;}});return tickLabels[p][b];}
function addGrid(r,c,isDiag){
  const idx=grids.length;
  grids.push({left:LEFT+PITCH*c,top:TOP+PITCH*r,width:SIZE,height:SIZE,show:true,borderColor:'#000',borderWidth:1.1,containLabel:false});
  const bottom=r===7,first=c===0;
  xAxes.push({gridIndex:idx,type:'value',min:axisMin[c],max:axisMax[c],splitLine:{show:false},axisLine:{show:true,onZero:false,lineStyle:stroke},
    axisTick:{show:true,length:5,customValues:tickValues[c],lineStyle:stroke},
    axisLabel:{show:bottom,customValues:tickValues[c],rotate:45,align:'center',verticalAlign:'middle',margin:xMargin[c],hideOverlap:false,showMinLabel:true,showMaxLabel:true,color:'#000',fontFamily:FONT,fontSize:13.5,formatter:v=>nearestLabel(c,v)},
    name:bottom?paramNames[c]:'',nameLocation:'middle',nameGap:62.5,nameMoveOverlap:false,nameTextStyle:{color:'#000',fontFamily:FONT,fontSize:13.9}});
  const yp=isDiag?null:r;
  yAxes.push({gridIndex:idx,type:'value',min:isDiag?0:axisMin[r],max:isDiag?200:axisMax[r],splitLine:{show:false},axisLine:{show:true,onZero:false,lineStyle:stroke},
    axisTick:{show:!isDiag,length:5,customValues:isDiag?[]:tickValues[r],lineStyle:stroke},
    axisLabel:{show:!isDiag&&first,customValues:isDiag?[]:tickValues[r],rotate:45,align:'right',verticalAlign:'middle',margin:16.5,hideOverlap:false,showMinLabel:true,showMaxLabel:true,color:'#000',fontFamily:FONT,fontSize:13.5,formatter:v=>isDiag?'':nearestLabel(yp,v)},
    name:(!isDiag&&first)?paramNames[r]:'',nameLocation:'middle',nameGap:62,nameMoveOverlap:false,nameTextStyle:{color:'#000',fontFamily:FONT,fontSize:13.9}});
  return idx;
}
function lineSeries(i,data,width,z){series.push({type:'line',xAxisIndex:i,yAxisIndex:i,data,showSymbol:false,symbol:'none',silent:true,animation:false,clip:true,z,lineStyle:{color:'#000',width,join:'miter'}});}
const ctx=document.createElement('canvas').getContext('2d');
function widthOf(t,s){ctx.font=s+'px "DejaVu Sans"';return ctx.measureText(t).width;}
// diagonal
histograms.forEach((h,k)=>{
  const i=addGrid(k,k,true),step=(axisMax[k]-axisMin[k])/h.length,d=[[axisMin[k],0]];
  h.forEach((v,b)=>{d.push([axisMin[k]+b*step,v]);d.push([axisMin[k]+(b+1)*step,v]);});
  d.push([axisMax[k],0]);
  lineSeries(i,d,1.6,5);
  const top=TOP+PITCH*k,mw=widthOf(titleMain[k],16.67),uw=Math.max(widthOf(titleUp[k],11.67),widthOf(titleDown[k],11.67));
  const x0=LEFT+PITCH*k+SIZE/2-(mw+uw+1)/2;
  const txt=(t,x,y,s)=>graphics.push({type:'text',left:x,top:y-s*0.6,silent:true,style:{text:t,fontFamily:FONT,fontSize:s,fill:'#000'}});
  txt(titleMain[k],x0,top-10.5,16.67);
  txt(titleUp[k],x0+mw+1,top-18,11.67);
  txt(titleDown[k],x0+mw+1,top-7.5,11.67);
});
// 2-d panels
panels.forEach(([r,c,cont,isl,cells,pts])=>{
  const i=addGrid(r,c,false);
  const px=axisMin[c],py=axisMin[r],sx=(axisMax[c]-px)/20,sy=(axisMax[r]-py)/20;
  const rects=[];
  cells.forEach(([row,col,digits])=>{[...digits].forEach((ch,j)=>{const lv=ch===' '?0:+ch;if(!lv)return;const cc=col+j,rr=19-row;rects.push([px+cc*sx,px+(cc+1)*sx,py+rr*sy,py+(rr+1)*sy,lv]);});});
  const sc=[];for(let k=0;k<pts.length;k+=2)sc.push([decode(c,pts[k]),decode(r,pts[k+1])]);
  series.push({type:'scatter',xAxisIndex:i,yAxisIndex:i,data:sc,symbolSize:3,silent:true,animation:false,z:1,itemStyle:{color:'#000',opacity:0.17}});
  series.push({type:'custom',xAxisIndex:i,yAxisIndex:i,data:rects,encode:{x:[0,1],y:[2,3]},silent:true,animation:false,clip:true,z:2,
    renderItem:(p,api)=>{const a=api.coord([api.value(0),api.value(2)]),b=api.coord([api.value(1),api.value(3)]);const g=levelGray[api.value(4)];
      return {type:'rect',shape:{x:Math.round(a[0]),y:Math.round(b[1]),width:Math.round(b[0])-Math.round(a[0]),height:Math.round(a[1])-Math.round(b[1])},style:{fill:`rgb(${g},${g},${g})`}};}});
  cont.forEach(raw=>{
    const open=raw[0]===-1,a=open?raw.slice(1):raw,d=[];
    for(let k=0;k<a.length;k+=2)d.push([decode(c,a[k]),decode(r,a[k+1])]);
    const edge=(x,y)=>x<=0||y<=0||x>=200||y>=200;
    if(!open&&!edge(a[0],a[1])&&!edge(a[a.length-2],a[a.length-1]))d.push(d[0]);
    lineSeries(i,d,2,4);
  });
  for(let k=0;k<isl.length;k+=4){const [x,y,rx,ry]=isl.slice(k,k+4);
    lineSeries(i,[[x-rx,y],[x,y+ry],[x+rx,y],[x,y-ry],[x-rx,y]].map(q=>[decode(c,q[0]),decode(r,q[1])]),2,4);}
});
const offset=(t,x,y,al)=>graphics.push({type:'text',left:al==='r'?undefined:x,right:al==='r'?1809-x:undefined,top:y-7,silent:true,style:{text:t,fontFamily:FONT,fontSize:13.9,fill:'#000'}});
offset('1e\u22128',101.7,1081.7,'l');offset('1e\u22125',101.7,1291.7,'l');
offset('1e\u22128',1350,1755,'r');offset('1e\u22125',1560,1746,'r');
const chart=echarts.init(document.getElementById('c'),null,{width:1809,height:1809,renderer:'canvas'});
chart.setOption({animation:false,backgroundColor:'#fff',tooltip:{show:false},grid:grids,xAxis:xAxes,yAxis:yAxes,series,graphic:graphics});
</script></body></html>
